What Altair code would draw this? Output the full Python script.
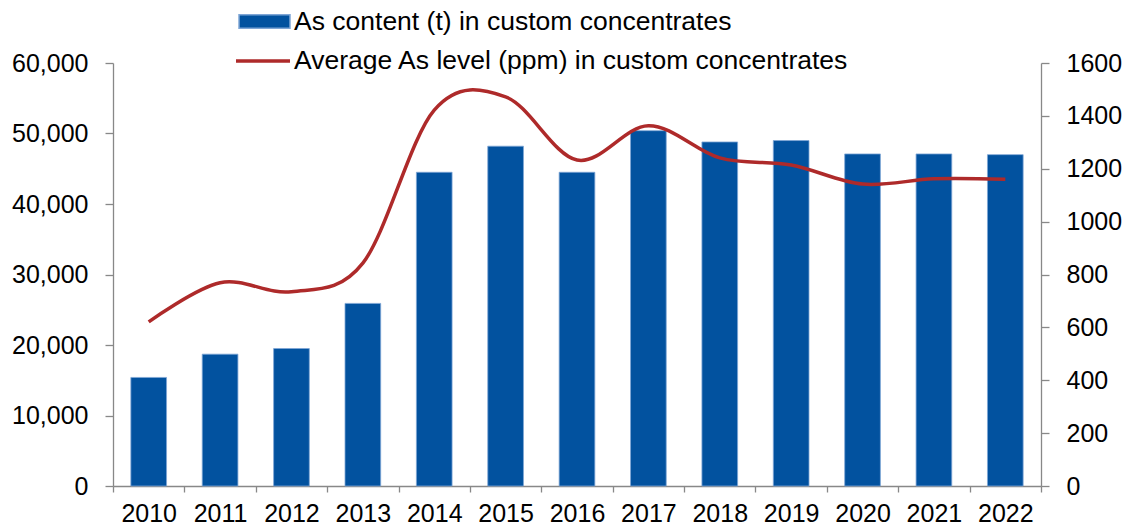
import altair as alt
import pandas as pd

years = ["2010", "2011", "2012", "2013", "2014", "2015", "2016",
         "2017", "2018", "2019", "2020", "2021", "2022"]
as_content_t = [15400, 18700, 19500, 25900, 44500, 48200, 44500,
                50400, 48800, 49000, 47100, 47100, 47000]
avg_as_ppm = [621, 769, 735, 843, 1422, 1472, 1233,
              1363, 1241, 1214, 1142, 1162, 1160]

bar_label = "As content (t) in custom concentrates"
line_label = "Average As level (ppm) in custom concentrates"

BLUE = "#02529F"
RED = "#AE2A2A"
AXIS_GREY = "#888888"
FONT = "Liberation Sans"

df = pd.DataFrame({
    "year": years,
    "content": as_content_t,
    "ppm": avg_as_ppm,
    "bar_series": [bar_label] * len(years),
    "line_series": [line_label] * len(years),
})

x_enc = alt.X(
    "year:N",
    sort=years,
    scale=alt.Scale(paddingInner=0, paddingOuter=0),
    axis=alt.Axis(
        title=None, labelAngle=0, tickBand="extent", tickSize=6,
        labelPadding=9, labelFontSize=25,
    ),
)

bars = alt.Chart(df).mark_bar(
    width={"band": 0.5}, stroke="#7FA6D6", strokeWidth=0.8
).encode(
    x=x_enc,
    y=alt.Y(
        "content:Q",
        scale=alt.Scale(domain=[0, 60000], nice=False),
        axis=alt.Axis(
            title=None, orient="left",
            values=[0, 10000, 20000, 30000, 40000, 50000, 60000],
            format=",.0f", tickSize=8, labelPadding=17,
        ),
    ),
    fill=alt.Fill(
        "bar_series:N",
        scale=alt.Scale(domain=[bar_label], range=[BLUE]),
        legend=alt.Legend(
            title=None, orient="none", legendX=125, legendY=-68,
            symbolType="M-1,-0.26H1V0.26H-1Z", symbolSize=2601,
            labelFontSize=26.5, labelFont=FONT, labelColor="#000000",
            labelOffset=3, padding=0, labelLimit=800,
        ),
    ),
)

line = alt.Chart(df).mark_line(
    interpolate="cardinal", strokeWidth=3.5
).encode(
    x=x_enc,
    y=alt.Y(
        "ppm:Q",
        scale=alt.Scale(domain=[0, 1600], nice=False),
        axis=alt.Axis(
            title=None, orient="right",
            values=[0, 200, 400, 600, 800, 1000, 1200, 1400, 1600],
            format=".0f", tickSize=8, labelPadding=17,
        ),
    ),
    stroke=alt.Stroke(
        "line_series:N",
        scale=alt.Scale(domain=[line_label], range=[RED]),
        legend=alt.Legend(
            title=None, orient="none", legendX=121, legendY=-31,
            symbolType="stroke", symbolSize=2916, symbolStrokeWidth=3.5,
            labelFontSize=26.5, labelFont=FONT, labelColor="#000000",
            labelOffset=2, padding=0, labelLimit=800,
        ),
    ),
)

chart = alt.layer(bars, line).resolve_scale(
    y="independent", fill="independent", stroke="independent"
).properties(
    width=928,
    height=423,
    autosize=alt.AutoSizeParams(type="none"),
    padding={"left": 113, "top": 63, "right": 83, "bottom": 40},
    background="white",
).configure_view(
    stroke=None
).configure_axis(
    grid=False,
    domainColor=AXIS_GREY,
    domainWidth=1.3,
    tickColor=AXIS_GREY,
    tickWidth=1.3,
    labelFont=FONT,
    labelFontSize=25,
    labelColor="#000000",
)

chart.save("out.html", embed_options={"renderer": "svg", "actions": False})
